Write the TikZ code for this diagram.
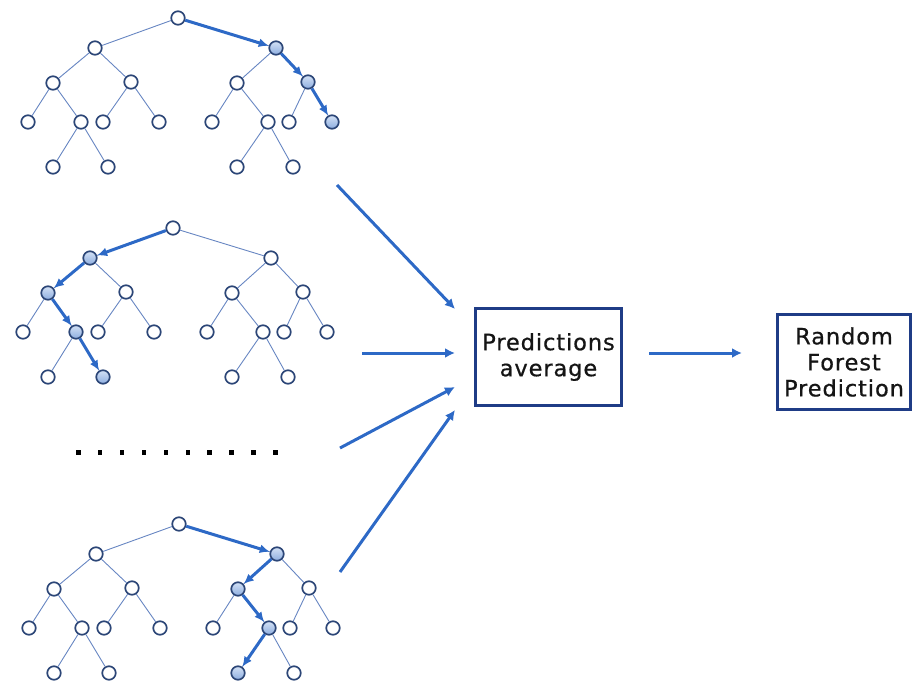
\documentclass[tikz,border=0pt]{standalone}
\usepackage{fontspec}
\newfontfamily\boxfont{DejaVu Sans}[LetterSpace=4, FakeBold=0.6]
\usetikzlibrary{arrows.meta}

\definecolor{nodeline}{HTML}{2C4677}
\definecolor{edgeblue}{HTML}{6786C2}
\definecolor{pathblue}{HTML}{2D69C6}
\definecolor{boxblue}{HTML}{1F3C86}
\definecolor{hltop}{HTML}{D3E1F5}
\definecolor{hlbot}{HTML}{8EAEE0}
\definecolor{inktext}{HTML}{151515}

\tikzset{
  tnode/.style={circle, draw=nodeline, line width=1.7pt, fill=white,
                inner sep=0pt, minimum size=13.5pt},
  hl/.style={top color=hltop, bottom color=hlbot},
  tedge/.style={draw=edgeblue, line width=0.9pt},
  patharrow/.style={draw=pathblue, line width=3pt,
                    -{Latex[length=10pt,width=9pt]}},
  bigarrow/.style={draw=pathblue, line width=3pt,
                   -{Latex[length=10pt,width=10pt]}},
  resultbox/.style={draw=boxblue, line width=3pt, fill=white, align=center,
                    inner sep=0pt, text=inktext,
                    font=\boxfont\fontsize{22.5}{26}\selectfont},
  % per-node highlight hooks, empty by default
  n-R/.style={}, n-A/.style={}, n-B/.style={},
  n-AA/.style={}, n-AB/.style={}, n-BA/.style={}, n-BB/.style={},
  n-AAA/.style={}, n-AAB/.style={}, n-ABA/.style={}, n-ABB/.style={},
  n-BAA/.style={}, n-BAB/.style={}, n-BBA/.style={}, n-BBB/.style={},
  n-AABA/.style={}, n-AABB/.style={}, n-BABA/.style={}, n-BABB/.style={},
  % one decision tree
  tree/.pic={
    \node[tnode,n-R]    (-R)    at (0,0)      {};
    \node[tnode,n-A]    (-A)    at (-83,30)   {};
    \node[tnode,n-B]    (-B)    at (98,30)    {};
    \node[tnode,n-AA]   (-AA)   at (-125,65)  {};
    \node[tnode,n-AB]   (-AB)   at (-47,64)   {};
    \node[tnode,n-BA]   (-BA)   at (59,65)    {};
    \node[tnode,n-BB]   (-BB)   at (130,64)   {};
    \node[tnode,n-AAA]  (-AAA)  at (-150,104) {};
    \node[tnode,n-AAB]  (-AAB)  at (-97,104)  {};
    \node[tnode,n-ABA]  (-ABA)  at (-75,104)  {};
    \node[tnode,n-ABB]  (-ABB)  at (-19,104)  {};
    \node[tnode,n-BAA]  (-BAA)  at (34,104)   {};
    \node[tnode,n-BAB]  (-BAB)  at (90,104)   {};
    \node[tnode,n-BBA]  (-BBA)  at (111,104)  {};
    \node[tnode,n-BBB]  (-BBB)  at (154,104)  {};
    \node[tnode,n-AABA] (-AABA) at (-125,149) {};
    \node[tnode,n-AABB] (-AABB) at (-70,149)  {};
    \node[tnode,n-BABA] (-BABA) at (59,149)   {};
    \node[tnode,n-BABB] (-BABB) at (115,149)  {};
    \path[tedge] (-R) -- (-A)  (-R) -- (-B)
      (-A) -- (-AA)  (-A) -- (-AB)  (-B) -- (-BA)  (-B) -- (-BB)
      (-AA) -- (-AAA)  (-AA) -- (-AAB)  (-AB) -- (-ABA)  (-AB) -- (-ABB)
      (-BA) -- (-BAA)  (-BA) -- (-BAB)  (-BB) -- (-BBA)  (-BB) -- (-BBB)
      (-AAB) -- (-AABA)  (-AAB) -- (-AABB)
      (-BAB) -- (-BABA)  (-BAB) -- (-BABB);
  }
}

\begin{document}
\begin{tikzpicture}[x=1pt, y=-1pt]
  \useasboundingbox (0,0) rectangle (914,682);

  % three sample trees with their decision paths
  \pic[n-B/.style=hl, n-BB/.style=hl, n-BBB/.style=hl] (t1) at (178,18) {tree};
  \draw[patharrow] (t1-R) -- (t1-B);
  \draw[patharrow] (t1-B) -- (t1-BB);
  \draw[patharrow] (t1-BB) -- (t1-BBB);

  \pic[n-A/.style=hl, n-AA/.style=hl, n-AAB/.style=hl, n-AABB/.style=hl] (t2) at (173,228) {tree};
  \draw[patharrow] (t2-R) -- (t2-A);
  \draw[patharrow] (t2-A) -- (t2-AA);
  \draw[patharrow] (t2-AA) -- (t2-AAB);
  \draw[patharrow] (t2-AAB) -- (t2-AABB);

  \pic[n-B/.style=hl, n-BA/.style=hl, n-BAB/.style=hl, n-BABA/.style=hl] (t3) at (179,524) {tree};
  \draw[patharrow] (t3-R) -- (t3-B);
  \draw[patharrow] (t3-B) -- (t3-BA);
  \draw[patharrow] (t3-BA) -- (t3-BAB);
  \draw[patharrow] (t3-BAB) -- (t3-BABA);

  % ellipsis between the trees
  \foreach \i in {0,...,9}
    \fill[black] (76+21.9*\i, 450) rectangle ++(4.5,4.5);

  % aggregation boxes
  \node[resultbox, minimum width=146pt, minimum height=97pt] (avg) at (548.5,357)
    {Predictions\\average};
  \node[resultbox, minimum width=133pt, minimum height=95pt] (rf) at (844,362)
    {Random\\Forest\\Prediction};

  % arrows into and out of the average
  \coordinate (s1) at (337,185);  \coordinate (e1) at (455,309);
  \coordinate (s2) at (362,353);  \coordinate (e2) at (455,353);
  \coordinate (s3) at (340,448);  \coordinate (e3) at (455,387);
  \coordinate (s4) at (340,572);  \coordinate (e4) at (455,410);
  \coordinate (s5) at (649,353);  \coordinate (e5) at (742,353);
  \draw[bigarrow] (s1) -- (e1);
  \draw[bigarrow] (s2) -- (e2);
  \draw[bigarrow] (s3) -- (e3);
  \draw[bigarrow] (s4) -- (e4);
  \draw[bigarrow] (s5) -- (e5);
\end{tikzpicture}
\end{document}
